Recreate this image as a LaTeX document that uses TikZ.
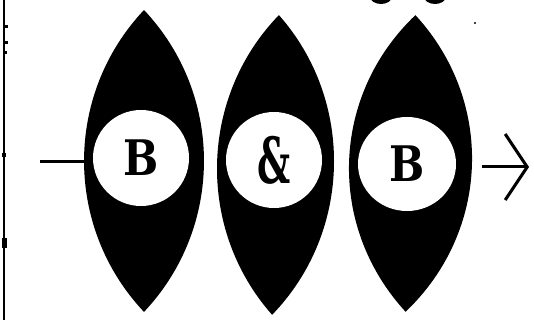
\documentclass[tikz,border=0pt]{standalone}
\usepackage{fontspec}
\newfontfamily\letterfont{DejaVu Serif}
\usetikzlibrary{arrows.meta,shapes.geometric}
\begin{document}
\begin{tikzpicture}[x=1pt,y=1pt,
 lensshape/.pic={\fill[black] (0,151) arc[start angle=136.67,end angle=223.33,radius=220] arc[start angle=-43.33,end angle=43.33,radius=220] -- cycle;},
 hole/.style={circle,fill=white,inner sep=0pt,minimum size=96pt,font=\letterfont\bfseries\fontsize{49}{49}\selectfont},
 wire/.style={line width=3pt},
 speck/.style={fill=black}]
\useasboundingbox (0,0) rectangle (534,320);
\clip (0,0) rectangle (534,320);
% frame line and scan marks
\draw[line width=2.5pt] (4,0) -- (4,320);
\fill[speck] (4,292) rectangle (7.5,295);
\fill[speck] (4,276) rectangle (7.5,279);
\fill[speck] (4,266) rectangle (7,269);
\fill[speck] (2,163) rectangle (6,167);
\fill[speck] (2,72) rectangle (7,82);
\fill[speck] (381,323.5) ellipse[x radius=11,y radius=7.5];
\fill[speck] (435,323.5) ellipse[x radius=11,y radius=7.5];
\fill[speck] (475,297) circle[radius=1.2];
% lenses
\pic at (144,159) {lensshape};
\pic[rotate=-1.3,xscale=0.975,yscale=0.993] at (275.5,155) {lensshape};
\pic[rotate=-1.9,xscale=1.025,yscale=0.983] at (410.5,156.5) {lensshape};
% holes with letters
\node[hole] (b1) at (141,162) {\scalebox{0.85}[1]{B}};
\node[hole] (amp) at (274,160) {\scalebox{0.75}[1.3]{\&}};
\node[hole,ellipse,minimum width=98pt,minimum height=94pt] (b2) at (407,156) {\scalebox{0.85}[1]{B}};
% wires
\coordinate (s) at (40,158);
\coordinate (l1w) at (86,158);
\coordinate (l3e) at (482,153);
\coordinate (e) at (529,153);
\draw[wire] (s) -- (l1w);
\draw[wire,-{Straight Barb[length=22pt,width=66pt,line width=3pt]}] (l3e) -- (e);
\end{tikzpicture}
\end{document}
